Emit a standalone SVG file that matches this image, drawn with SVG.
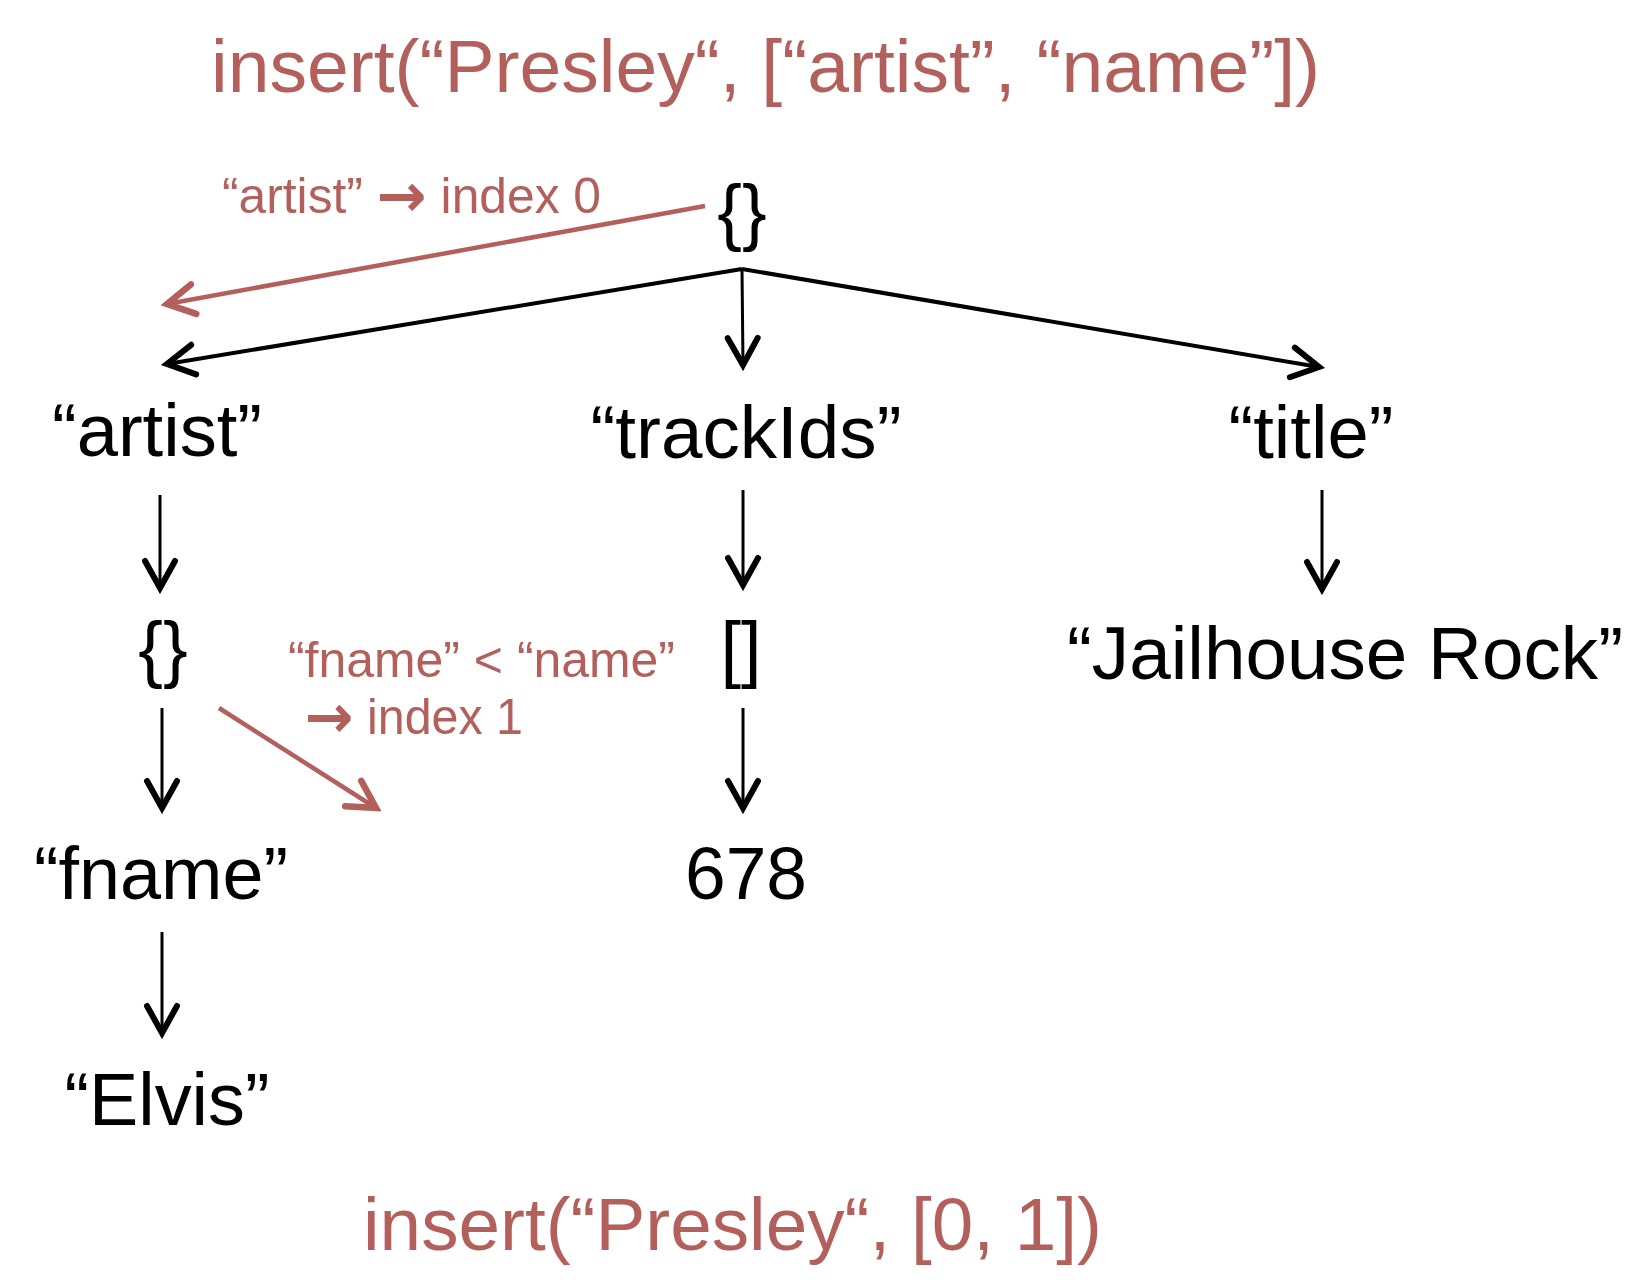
<svg xmlns="http://www.w3.org/2000/svg" width="1633" height="1283" viewBox="0 0 1633 1283">
<style>
.t{font-family:"Liberation Sans",Arial,sans-serif;}
.red{fill:#b3605c;}
.blk{fill:#000;}
.node{font-size:74px;text-anchor:middle;}
.title{font-size:75px;}
.note{font-size:50px;}
.arw{font-family:"DejaVu Sans",sans-serif;font-weight:bold;font-size:60px;}
.c{stroke:#000;stroke-width:4;fill:none;}
.v{stroke:#000;stroke-width:3;fill:none;}
.r{stroke:#b3605c;stroke-width:4.5;fill:none;}
</style>
<defs>
<marker id="ab" viewBox="0 0 44 40" refX="38" refY="20" markerWidth="44" markerHeight="40" markerUnits="userSpaceOnUse" orient="auto">
<path d="M11,5 L38,20 L11,35" fill="none" stroke="#000" stroke-width="6" stroke-linecap="round" stroke-linejoin="miter"/>
</marker>
<marker id="ar" viewBox="0 0 44 40" refX="38" refY="20" markerWidth="44" markerHeight="40" markerUnits="userSpaceOnUse" orient="auto">
<path d="M11,5 L38,20 L11,35" fill="none" stroke="#b3605c" stroke-width="6.5" stroke-linecap="round" stroke-linejoin="miter"/>
</marker>
</defs>
<rect width="1633" height="1283" fill="#fff"/>

<g id="title-top"><text class="t red title" x="211" y="92" textLength="1109" lengthAdjust="spacingAndGlyphs">insert(“Presley“, [“artist”, “name”])</text></g>
<g id="title-bottom"><text class="t red title" x="363" y="1250" textLength="739" lengthAdjust="spacingAndGlyphs">insert(“Presley“, [0, 1])</text></g>

<g id="note-artist"><text class="t red note" x="222" y="213" textLength="379" lengthAdjust="spacingAndGlyphs">“artist” <tspan class="arw" dy="3">→</tspan><tspan dy="-3"> index 0</tspan></text></g>
<g id="note-fname">
<text class="t red note" x="288" y="677" textLength="387" lengthAdjust="spacingAndGlyphs">“fname” &lt; “name”</text>
<text class="t red note" x="305" y="734" textLength="218" lengthAdjust="spacingAndGlyphs"><tspan class="arw" dy="3">→</tspan><tspan dy="-3"> index 1</tspan></text>
</g>

<g id="node-root"><text class="t blk node" x="742" y="237">{}</text></g>
<g id="node-artist"><text class="t blk node" x="157" y="456" textLength="210" lengthAdjust="spacingAndGlyphs">“artist”</text></g>
<g id="node-trackIds"><text class="t blk node" x="746" y="458" textLength="311" lengthAdjust="spacingAndGlyphs">“trackIds”</text></g>
<g id="node-title"><text class="t blk node" x="1311" y="458" textLength="165" lengthAdjust="spacingAndGlyphs">“title”</text></g>
<g id="node-artist-obj"><text class="t blk node" x="163" y="674">{}</text></g>
<g id="node-array"><text class="t blk node" x="741" y="674">[]</text></g>
<g id="node-jailhouse"><text class="t blk node" x="1345" y="679" textLength="556" lengthAdjust="spacingAndGlyphs">“Jailhouse Rock”</text></g>
<g id="node-fname"><text class="t blk node" x="161" y="899" textLength="254" lengthAdjust="spacingAndGlyphs">“fname”</text></g>
<g id="node-678"><text class="t blk node" x="746" y="899" textLength="122" lengthAdjust="spacingAndGlyphs">678</text></g>
<g id="node-elvis"><text class="t blk node" x="167" y="1125" textLength="205" lengthAdjust="spacingAndGlyphs">“Elvis”</text></g>

<g id="connectors">
<line class="c" x1="742" y1="269" x2="167" y2="364" marker-end="url(#ab)"/>
<line class="v" x1="742" y1="269" x2="743" y2="365" marker-end="url(#ab)"/>
<line class="c" x1="742" y1="269" x2="1319" y2="367" marker-end="url(#ab)"/>
<line class="v" x1="160" y1="495" x2="160" y2="588" marker-end="url(#ab)"/>
<line class="v" x1="743" y1="490" x2="743" y2="585" marker-end="url(#ab)"/>
<line class="v" x1="1322" y1="490" x2="1322" y2="589" marker-end="url(#ab)"/>
<line class="v" x1="162" y1="708" x2="162" y2="808" marker-end="url(#ab)"/>
<line class="v" x1="743" y1="708" x2="743" y2="808" marker-end="url(#ab)"/>
<line class="v" x1="162" y1="932" x2="162" y2="1033" marker-end="url(#ab)"/>
<line class="r" x1="705" y1="206" x2="167" y2="304" marker-end="url(#ar)"/>
<line class="r" x1="219" y1="708" x2="376" y2="808" marker-end="url(#ar)"/>
</g>
</svg>
